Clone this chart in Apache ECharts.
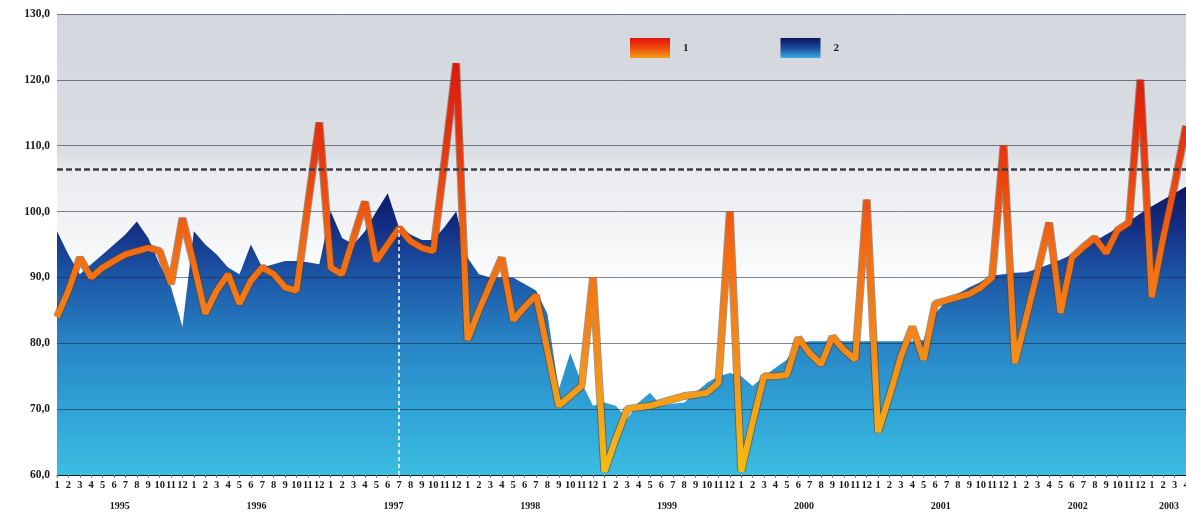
<!DOCTYPE html>
<html>
<head>
<meta charset="utf-8">
<script src="https://cdn.jsdelivr.net/npm/echarts@6/dist/echarts.min.js"></script>
<style>
  html, body { margin: 0; padding: 0; background: #fff; }
  #chart { width: 1186px; height: 521px; }
</style>
</head>
<body>
<div id="chart"></div>
<script>
// ---------- data ----------
const years = ['1995', '1996', '1997', '1998', '1999', '2000', '2001', '2002', '2003'];
const monthLabels = ['1', '2', '3', '4', '5', '6', '7', '8', '9', '10', '11', '12'];
const pointCount = 100; // Jan 1995 .. Apr 2003

// series "1" (line)
const series1 = [
  84, 88, 93, 90, 91.5, 92.5, 93.5, 94, 94.5, 94, 89, 99,
  92, 84.5, 88, 90.5, 86, 89.5, 91.5, 90.5, 88.5, 88, 101, 113.5,
  91.5, 90.5, 96, 101.5, 92.5, 95, 97.5, 95.5, 94.5, 94, 108, 122.5,
  80.5, 85, 89, 93, 83.5, 85.5, 87.3, 79, 70.5, 72, 73.5, 90,
  60.5, 65.5, 70, 70.3, 70.5, 71, 71.5, 72, 72.2, 72.5, 74, 100,
  60.5, 68, 75, 75, 75.2, 80.8, 78.5, 76.8, 81, 79, 77.5, 101.8,
  66.5, 72, 78, 82.5, 77.5, 86, 86.5, 87, 87.5, 88.5, 90, 110,
  77, 84, 91, 98.3, 84.6, 93, 94.6, 96, 93.7, 97.2, 98.3, 120,
  87, 96, 104, 113
];

// series "2" (area)
const series2 = [
  97, 93.5, 90.5, 92, 93.5, 95, 96.5, 98.5, 96, 92, 88.5, 82.5,
  97, 95, 93.5, 91.5, 90.5, 95, 91.5, 92, 92.5, 92.5, 92.3, 92,
  100, 96, 95, 97, 100, 102.8, 97.5, 96.5, 95.7, 95.7, 97.7, 100,
  93, 90.5, 90, 90, 90, 89, 88, 84.5, 73, 78.5, 74, 70.5,
  71, 70.5, 68.5, 71, 72.5, 70.5, 70.8, 71, 72.5, 74, 75, 75.5,
  75, 73.5, 75, 76.3, 77.5, 80, 80.3, 80.3, 80.3, 80.3, 80.3, 80.3,
  80.3, 80.3, 80.3, 80.3, 80.5, 84.5, 86.5, 87.5, 88.5, 89.3, 90.3, 90.5,
  90.7, 90.8, 91.3, 92, 92.7, 93.5, 94.5, 95.5, 96.5, 97.5, 98.5, 99.7,
  100.8, 101.8, 102.8, 103.8
];

// reference lines
const refLevel = 106.5;     // dashed horizontal line
const refMonthIndex = 30;   // white dashed vertical (Jul 1997)

// ---------- derived ----------
const categories = [];
for (let i = 0; i < pointCount; i++) categories.push(monthLabels[i % 12]);

// year label at the middle of the months shown for each year
const yearCenters = years.map((y, k) => {
  const first = k * 12;
  const last = Math.min(first + 11, pointCount - 1);
  return (first + last) / 2;
});

const lineGrad = new echarts.graphic.LinearGradient(0, 0, 0, 1, [
  { offset: 0, color: '#de160b' },
  { offset: 0.25, color: '#ea3c0e' },
  { offset: 0.45, color: '#f26a12' },
  { offset: 0.7, color: '#f58a18' },
  { offset: 1, color: '#f7bd12' }
]);
const areaGrad = new echarts.graphic.LinearGradient(0, 0, 0, 1, [
  { offset: 0, color: '#0b1864' },
  { offset: 0.12, color: '#122a80' },
  { offset: 0.32, color: '#1d58a8' },
  { offset: 0.55, color: '#2886c6' },
  { offset: 0.8, color: '#31a6d8' },
  { offset: 1, color: '#3cbde2' }
]);
const bgGrad = new echarts.graphic.LinearGradient(0, 0, 0, 1, [
  { offset: 0, color: '#d3d6dc' },
  { offset: 0.3, color: '#dadde2' },
  { offset: 0.34, color: '#e9ebee' },
  { offset: 0.5, color: '#f5f6f8' },
  { offset: 0.6, color: '#ffffff' },
  { offset: 1, color: '#ffffff' }
]);

const labelFont = {
  fontFamily: 'Liberation Serif',
  fontWeight: 'bold',
  fontSize: 10.5,
  color: '#1a1a1a'
};

const chart = echarts.init(document.getElementById('chart'));

chart.setOption({
  animation: false,
  backgroundColor: '#ffffff',
  grid: {
    left: 57,
    right: 0,
    top: 14,
    bottom: 46,
    outerBoundsMode: 'none',
    show: true,
    backgroundColor: bgGrad,
    borderWidth: 0
  },
  legend: {
    top: 33,
    left: 625,
    itemWidth: 40,
    itemHeight: 20,
    itemGap: 92,
    icon: 'rect',
    textStyle: { ...labelFont, fontSize: 11, padding: [0, 0, 0, 8] },
    data: [
      {
        name: '1',
        itemStyle: {
          color: new echarts.graphic.LinearGradient(0, 0, 0, 1, [
            { offset: 0, color: '#e3130a' },
            { offset: 0.5, color: '#ee4a0e' },
            { offset: 1, color: '#f2a01a' }
          ])
        }
      },
      {
        name: '2',
        itemStyle: {
          color: new echarts.graphic.LinearGradient(0, 0, 0, 1, [
            { offset: 0, color: '#0a1660' },
            { offset: 0.5, color: '#1c4a9c' },
            { offset: 1, color: '#3aaee0' }
          ])
        }
      }
    ]
  },
  xAxis: [
    {
      type: 'category',
      data: categories,
      boundaryGap: false,
      axisLine: { show: true, lineStyle: { color: '#1a1a1a', width: 1 } },
      axisTick: { show: true, length: 3, interval: 0, lineStyle: { color: '#777' } },
      axisLabel: { ...labelFont, interval: 0, margin: 5, hideOverlap: false },
      splitLine: { show: false },
      z: 1.5
    },
    {
      type: 'value',
      min: 0,
      max: pointCount - 1,
      position: 'bottom',
      offset: 18,
      axisLine: { show: false },
      axisTick: { show: false },
      splitLine: { show: false },
      axisLabel: {
        ...labelFont,
        fontSize: 10,
        customValues: yearCenters,
        showMinLabel: true,
        showMaxLabel: true,
        formatter: v => {
          const k = yearCenters.indexOf(v);
          return k >= 0 ? years[k] : '';
        }
      }
    }
  ],
  yAxis: {
    type: 'value',
    min: 60,
    max: 130,
    interval: 10,
    z: 1.5,
    axisLine: { show: false },
    axisTick: { show: false },
    axisLabel: {
      ...labelFont,
      fontSize: 11.5,
      margin: 7,
      formatter: v => v.toFixed(1).replace('.', ',')
    },
    splitLine: { show: true, lineStyle: { color: 'rgba(30,35,50,0.55)', width: 1 } }
  },
  series: [
    {
      name: '2',
      type: 'line',
      data: series2,
      z: 1,
      showSymbol: false,
      lineStyle: { width: 0 },
      areaStyle: { color: areaGrad, opacity: 1 },
      itemStyle: { color: '#1c4a9c' },
      markLine: {
        silent: true,
        symbol: 'none',
        label: { show: false },
        data: [
          [
            { coord: [refMonthIndex, 60], lineStyle: { color: '#ffffff', type: [4, 3], width: 1.5 } },
            { coord: [refMonthIndex, series1[refMonthIndex]] }
          ]
        ]
      }
    },
    {
      name: '1 outline',
      type: 'line',
      data: series1,
      z: 3,
      silent: true,
      showSymbol: false,
      lineStyle: { width: 8, color: 'rgba(95,60,35,0.55)', join: 'bevel' }
    },
    {
      name: '1',
      type: 'line',
      data: series1,
      z: 4,
      showSymbol: false,
      itemStyle: { color: '#f26a12' },
      lineStyle: { width: 6, color: lineGrad, join: 'bevel' },
      markLine: {
        silent: true,
        symbol: 'none',
        label: { show: false },
        lineStyle: { color: '#3a3d45', type: [6, 3], width: 2.5 },
        data: [{ yAxis: refLevel }]
      }
    }
  ]
});
</script>
</body>
</html>
